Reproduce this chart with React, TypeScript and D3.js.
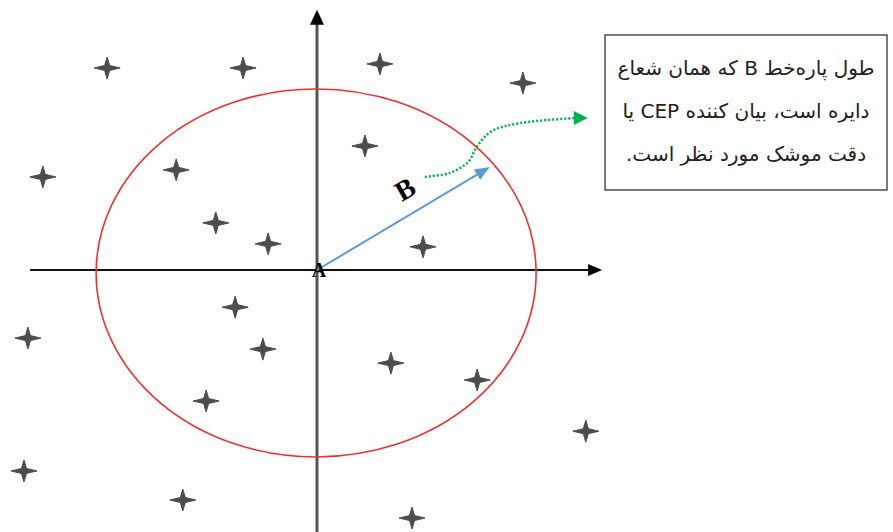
import React from "react";
import * as d3 from "d3";

// Scatter of impact points (data units; origin = aim point A)
const impactX = [-4.77, -1.68, 1.43, 4.68, -6.23, -3.2, 1.09, -2.3, -1.11, 2.41, -1.86, -6.57, -1.23, 1.68, 3.64, -2.52, 6.11, -6.66, -3.05, 2.16];
const impactY = [5.49, 5.49, 5.6, 5.08, 2.53, 2.72, 3.37, 1.28, 0.71, 0.63, -1.01, -1.85, -2.15, -2.53, -2.99, -3.56, -4.38, -5.46, -6.25, -6.74];

// CEP circle (radius B)
const cepCenter = [-0.02, -0.08];
const cepRadius = 5;
const radiusEnd = [3.93, 2.8];

// green pointer path (data units)
const pointerX = [2.45, 3.02, 3.43, 3.66, 3.98, 4.61, 5.86];
const pointerY = [2.53, 2.64, 2.93, 3.4, 3.78, 3.99, 4.13];

const noteLines = [
  "طول پاره‌خط  B که همان شعاع",
  "دایره است، بیان کننده CEP یا",
  "دقت موشک مورد نظر است.",
];

const W = 893;
const H = 532;

export default function App() {
  const x = d3.scaleLinear().domain([-10, 10]).range([317 - 440, 317 + 440]);
  const y = d3.scaleLinear().domain([-10, 10]).range([270 + 368, 270 - 368]);

  const starPath = (cx: number, cy: number) => {
    const a = 13, b = 11, r = 2.5;
    return `M${cx - a},${cy} L${cx - r},${cy - r} L${cx},${cy - b} L${cx + r},${cy - r} L${cx + a},${cy} L${cx + r},${cy + r} L${cx},${cy + b} L${cx - r},${cy + r} Z`;
  };

  const x0 = x(0), y0 = y(0);
  const ex = x(radiusEnd[0]), ey = y(radiusEnd[1]);
  const ang = Math.atan2(ey - y0, ex - x0);
  const headLen = 15, headW = 6;
  const bx = ex - headLen * Math.cos(ang), by = ey - headLen * Math.sin(ang);
  const blueHead = `M${ex},${ey} L${bx + headW * Math.sin(ang)},${by - headW * Math.cos(ang)} L${bx - headW * Math.sin(ang)},${by + headW * Math.cos(ang)} Z`;

  const greenPts: [number, number][] = pointerX.map((v, i) => [x(v), y(pointerY[i])]);
  const gLine = d3.line().curve(d3.curveCatmullRom)(greenPts) as string;
  const last = greenPts[greenPts.length - 1];
  const gTip = [last[0] + 13, last[1]];

  const ax = x(6.48), ay = y(7.07);

  return (
    <svg width={W} height={H} style={{ position: "absolute", left: 0, top: 0, background: "#fff" }}>
      {/* axes */}
      <line x1={x(-6.52)} y1={y0} x2={ax - 12} y2={y0} stroke="#111" strokeWidth={2} />
      <path d={`M${ax},${y0} L${ax - 14},${y0 - 6} L${ax - 14},${y0 + 6} Z`} fill="#000" />
      <line x1={x0} y1={y(-7.2)} x2={x0} y2={ay + 12} stroke="#555" strokeWidth={3} />
      <path d={`M${x0},${ay} L${x0 - 7},${ay + 15} L${x0 + 7},${ay + 15} Z`} fill="#000" />

      {/* CEP circle */}
      <ellipse
        cx={x(cepCenter[0])}
        cy={y(cepCenter[1])}
        rx={x(cepRadius) - x(0)}
        ry={y(0) - y(cepRadius)}
        fill="none"
        stroke="#f03030"
        strokeWidth={1.6}
      />

      {/* impact points */}
      {impactX.map((v, i) => (
        <path key={i} d={starPath(x(v), y(impactY[i]))} fill="#3a3a3a" stroke="#3a3a3a" strokeWidth={1} strokeLinejoin="round" opacity={0.9} />
      ))}

      {/* radius B */}
      <line x1={x0} y1={y0} x2={bx} y2={by} stroke="#5b9bd5" strokeWidth={2} />
      <path d={blueHead} fill="#5b9bd5" />

      {/* green dotted pointer */}
      <path d={gLine} fill="none" stroke="#00b050" strokeWidth={2.5} strokeDasharray="2 2" />
      <path d={`M${gTip[0]},${gTip[1]} L${gTip[0] - 14},${gTip[1] - 7} L${gTip[0] - 14},${gTip[1] + 7} Z`} fill="#00b050" />

      {/* labels */}
      <text x={x0 + 2} y={y0 + 7} textAnchor="middle" fontFamily="Liberation Serif, serif" fontWeight="bold" fontSize={20} fill="#000">A</text>
      <text
        transform={`translate(${x(2.0)},${y(2.2)}) rotate(-30)`}
        textAnchor="middle"
        dominantBaseline="central"
        fontFamily="Liberation Serif, serif"
        fontWeight="bold"
        fontSize={28}
        fill="#000"
      >B</text>

      {/* note box */}
      <rect x={605} y={35} width={282} height={155} fill="#fff" stroke="#222" strokeWidth={1.2} />
      {noteLines.map((t, i) => (
        <text
          key={i}
          x={746}
          y={75 + i * 43}
          textAnchor="middle"
          direction="rtl"
          fontFamily="DejaVu Sans, sans-serif"
          fontSize={20}
          fill="#222"
        >{t}</text>
      ))}
    </svg>
  );
}
